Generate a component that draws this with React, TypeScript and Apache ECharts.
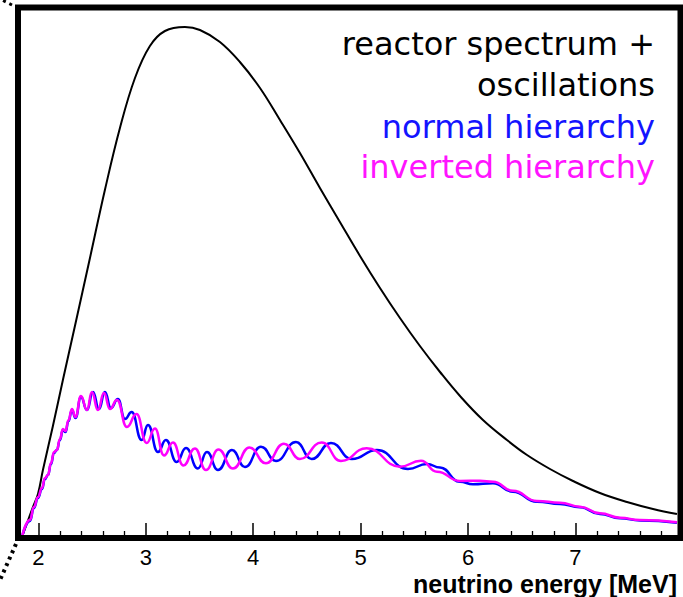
import React, { useEffect, useRef } from "react";
import * as echarts from "echarts";

// neutrino energy [MeV], value [arb. units]
const reactorSpectrum: [number, number][] = [
  [1.847, 1], [1.949, 31], [1.996, 44], [2.042, 68], [2.135, 112], [2.228, 158],
  [2.34, 212], [2.48, 280], [2.619, 348], [2.759, 410], [2.899, 460], [3.038, 492],
  [3.178, 507], [3.364, 511], [3.504, 508], [3.69, 496], [3.876, 476], [4.063, 450],
  [4.249, 418], [4.435, 385], [4.621, 350], [4.807, 316], [4.994, 282], [5.18, 250],
  [5.366, 220], [5.552, 192], [5.739, 166], [5.925, 142], [6.139, 118], [6.362, 98],
  [6.549, 83], [6.763, 69], [6.977, 57], [7.228, 45], [7.48, 36], [7.722, 29],
  [7.945, 24],
];

const normalHierarchy: [number, number][] = [
  [1.847, 1], [1.921, 17], [1.958, 30], [1.996, 40], [2.033, 49], [2.061, 59],
  [2.089, 63], [2.117, 74], [2.145, 85], [2.172, 88], [2.2, 98], [2.228, 108],
  [2.252, 106], [2.28, 117], [2.312, 128], [2.345, 120], [2.396, 141], [2.452, 128],
  [2.508, 146], [2.564, 129], [2.619, 146], [2.675, 130], [2.74, 139], [2.806, 119],
  [2.868, 126], [2.961, 98], [3.02, 113], [3.113, 86], [3.187, 98], [3.287, 76],
  [3.374, 90], [3.485, 69.5], [3.569, 86], [3.672, 68], [3.802, 88], [3.923, 71],
  [4.072, 91.3], [4.212, 77], [4.398, 96], [4.544, 79], [4.724, 95], [4.919, 79],
  [5.152, 88], [5.441, 69], [5.618, 74], [5.739, 70.5], [5.925, 56.3], [6.046, 53.7],
  [6.232, 54.7], [6.418, 46.3], [6.642, 36.3], [6.856, 34], [7.042, 30.7], [7.228, 24],
  [7.415, 19.7], [7.601, 17.5], [7.945, 15.3],
];

const invertedHierarchy: [number, number][] = [
  [1.847, 1], [1.921, 18], [1.958, 31], [1.996, 41], [2.033, 50], [2.061, 60],
  [2.089, 63], [2.117, 75], [2.145, 86], [2.172, 88], [2.2, 99], [2.228, 109],
  [2.252, 107], [2.28, 118], [2.312, 129], [2.345, 121], [2.396, 142], [2.452, 128],
  [2.498, 146], [2.554, 128], [2.61, 145], [2.666, 129], [2.731, 138], [2.824, 111],
  [2.913, 124], [3.008, 95], [3.085, 109.5], [3.169, 82.5], [3.253, 95.5], [3.35, 72.5],
  [3.457, 89.5], [3.56, 68], [3.676, 88.5], [3.811, 69.5], [3.965, 90.5], [4.118, 74.7],
  [4.286, 94.3], [4.435, 79], [4.637, 95.5], [4.817, 77], [5.056, 89.7], [5.366, 71.3],
  [5.562, 77.2], [5.711, 66.3], [5.925, 57], [6.111, 57.3], [6.232, 56.3], [6.418, 47.3],
  [6.642, 37], [6.856, 35.3], [7.042, 31.3], [7.228, 24.7], [7.415, 20.3], [7.601, 18],
  [7.945, 15.7],
];

const majorTicks = [2, 3, 4, 5, 6, 7];
const minorTicks = [
  2.2, 2.4, 2.6, 2.8, 3.2, 3.4, 3.6, 3.8, 4.2, 4.4, 4.6, 4.8, 5.2, 5.4, 5.6, 5.8,
  6.2, 6.4, 6.6, 6.8, 7.2, 7.4, 7.6, 7.8,
];
const legendLines = [
  { text: "reactor spectrum +", color: "#000000" },
  { text: "oscillations", color: "#000000" },
  { text: "normal hierarchy", color: "#1414ff" },
  { text: "inverted hierarchy", color: "#ff14ff" },
];
const axisTitle = "neutrino energy [MeV]";

export default function App() {
  const ref = useRef<HTMLDivElement>(null);
  useEffect(() => {
    if (!ref.current) return;
    const chart = echarts.init(ref.current, null, { renderer: "svg" });
    const legendY = [44, 85, 127, 167];
    chart.setOption({
      animation: false,
      backgroundColor: "#ffffff",
      grid: { left: 18, right: 2.5, top: 7.5, bottom: 59 },
      xAxis: [
        {
          type: "value",
          min: 1.81,
          max: 7.978,
          axisLine: { show: false },
          splitLine: { show: false },
          axisTick: {
            show: true,
            inside: true,
            length: 15,
            customValues: majorTicks,
            lineStyle: { color: "#000", width: 1.5 },
          },
          axisLabel: {
            customValues: majorTicks,
            color: "#000",
            fontSize: 22,
            fontFamily: "Liberation Sans",
            margin: 8,
          },
        },
        {
          type: "value",
          min: 1.81,
          max: 7.978,
          position: "bottom",
          axisLine: { show: false },
          splitLine: { show: false },
          axisTick: {
            show: true,
            inside: true,
            length: 7,
            customValues: minorTicks,
            lineStyle: { color: "#000", width: 1.3 },
          },
          axisLabel: { show: false },
        },
      ],
      yAxis: {
        type: "value",
        min: 0,
        max: 530.5,
        axisLine: { show: false },
        axisTick: { show: false },
        axisLabel: { show: false },
        splitLine: { show: false },
      },
      series: [
        {
          type: "line",
          data: reactorSpectrum,
          showSymbol: false,
          smooth: 0.4,
          lineStyle: { color: "#000000", width: 2 },
          z: 2,
        },
        {
          type: "line",
          data: normalHierarchy,
          showSymbol: false,
          smooth: 0.5,
          smoothMonotone: "x",
          lineStyle: { color: "#0000ff", width: 2.5 },
          z: 3,
        },
        {
          type: "line",
          data: invertedHierarchy,
          showSymbol: false,
          smooth: 0.5,
          smoothMonotone: "x",
          lineStyle: { color: "#ff00ff", width: 2.5 },
          z: 4,
        },
      ],
      graphic: [
        {
          type: "rect",
          z: 100,
          shape: { x: 18, y: 7.5, width: 662.5, height: 530.5 },
          style: { fill: "none", stroke: "#000", lineWidth: 6 },
        },
        {
          type: "line",
          z: 100,
          shape: { x1: 16, y1: 544, x2: 0, y2: 580 },
          style: { stroke: "#000", lineWidth: 4, lineDash: [3, 4] },
        },
        {
          type: "line",
          z: 100,
          shape: { x1: 12, y1: 5, x2: 0, y2: -1 },
          style: { stroke: "#000", lineWidth: 3, lineDash: [3, 4] },
        },
        ...legendLines.map((l, i) => ({
          type: "text",
          z: 100,
          x: 655,
          y: legendY[i],
          style: {
            text: l.text,
            fill: l.color,
            fontSize: 32,
            fontFamily: "DejaVu Sans",
            textAlign: "right",
            textVerticalAlign: "middle",
          },
        })),
        {
          type: "text",
          z: 100,
          x: 677,
          y: 584,
          style: {
            text: axisTitle,
            fill: "#000",
            fontSize: 25,
            fontWeight: "bold",
            fontFamily: "Liberation Sans",
            textAlign: "right",
            textVerticalAlign: "middle",
          },
        },
      ],
    });
    return () => chart.dispose();
  }, []);
  return (
    <div
      ref={ref}
      style={{ position: "fixed", left: 0, top: 0, width: 683, height: 597 }}
    />
  );
}
